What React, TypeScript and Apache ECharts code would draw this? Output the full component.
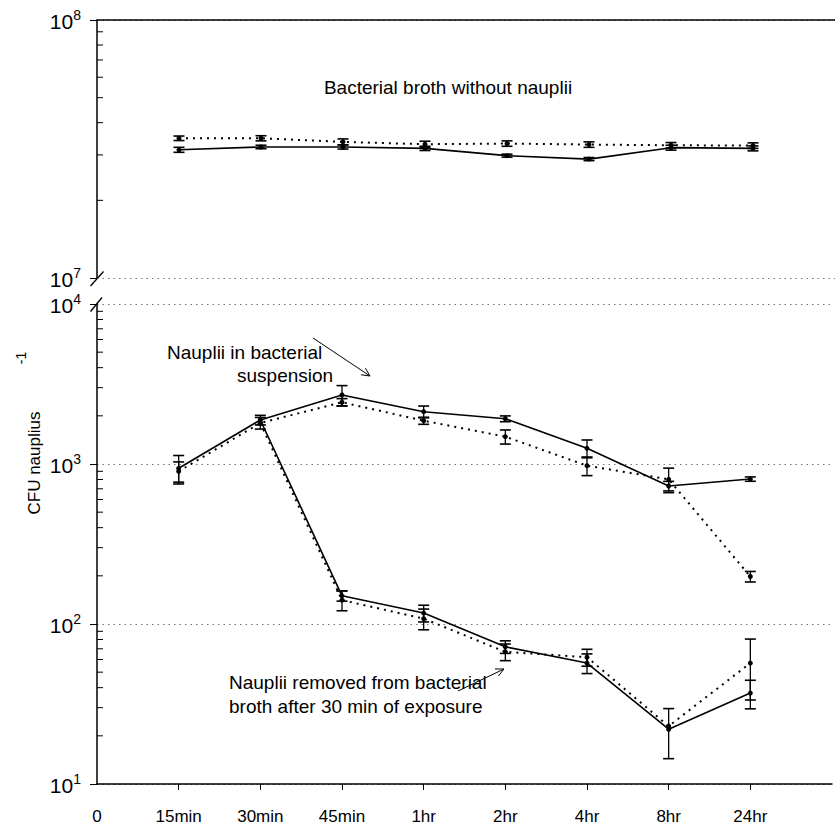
import React, { useEffect, useRef } from 'react';
import * as echarts from 'echarts';

// ---------- data ----------
const categories = ['0', '15min', '30min', '45min', '1hr', '2hr', '4hr', '8hr', '24hr'];
const timeIndex = [1, 2, 3, 4, 5, 6, 7, 8];

// Bacterial broth without nauplii (top panel)
const brothSolid = [3.14e7, 3.22e7, 3.22e7, 3.18e7, 2.98e7, 2.89e7, 3.2e7, 3.18e7];
const brothSolidErr = [0.07e7, 0.05e7, 0.06e7, 0.06e7, 0.04e7, 0.04e7, 0.07e7, 0.07e7];
const brothDotted = [3.48e7, 3.48e7, 3.37e7, 3.3e7, 3.32e7, 3.29e7, 3.27e7, 3.26e7];
const brothDottedErr = [0.07e7, 0.08e7, 0.09e7, 0.09e7, 0.08e7, 0.08e7, 0.08e7, 0.08e7];

// Nauplii in bacterial suspension
const suspSolid = [940, 1884, 2700, 2123, 1918, 1253, 729, 805];
const suspSolidErr = [190, 130, 390, 180, 80, 160, 50, 25];
const suspDotted = [900, 1803, 2432, 1865, 1482, 976, 802, 198];
const suspDottedErr = [130, 150, 130, 95, 150, 130, 140, 15];

// Nauplii removed from bacterial broth after 30 min of exposure
const removedSolid = [null, 1884, 150, 117, 72, 57, 22, 37];
const removedSolidErr = [null, 0, 11, 14, 6.5, 8, 7.6, 7.5];
const removedDotted = [null, 1803, 141, 108, 67, 62, 23, 57];
const removedDottedErr = [null, 0, 20, 16, 8, 7.5, 0, 23.5];

const topMinor = [2, 3, 4, 5, 6, 7, 8, 9].map((k) => k * 1e7);
const bottomMinor = [10, 100, 1000].flatMap((d) => [2, 3, 4, 5, 6, 7, 8, 9].map((k) => k * d));

// ---------- helpers ----------
const FONT = '"Liberation Sans", Arial, Helvetica, sans-serif';

const pts = (vals: (number | null)[]) =>
  timeIndex.map((x, i) => [x, vals[i]]).filter((p) => p[1] != null);

const errData = (vals: (number | null)[], errs: (number | null)[]) =>
  timeIndex
    .map((x, i) => (vals[i] == null || !errs[i] ? null : [x, (vals[i] as number) - (errs[i] as number), (vals[i] as number) + (errs[i] as number)]))
    .filter((p) => p != null);

const errorRender = (params: any, api: any) => {
  const x = api.value(0);
  const lo = api.coord([x, api.value(1)]);
  const hi = api.coord([x, api.value(2)]);
  const w = 5.5;
  const st = { stroke: '#000', lineWidth: 1.3 };
  return {
    type: 'group',
    children: [
      { type: 'line', shape: { x1: lo[0], y1: lo[1], x2: hi[0], y2: hi[1] }, style: st },
      { type: 'line', shape: { x1: lo[0] - w, y1: lo[1], x2: lo[0] + w, y2: lo[1] }, style: { stroke: '#000', lineWidth: 1.6 } },
      { type: 'line', shape: { x1: hi[0] - w, y1: hi[1], x2: hi[0] + w, y2: hi[1] }, style: { stroke: '#000', lineWidth: 1.6 } },
    ],
  };
};

const minorRender = (params: any, api: any) => {
  const p = api.coord([0, api.value(1)]);
  return { type: 'line', shape: { x1: p[0], y1: p[1], x2: p[0] + 6, y2: p[1] }, style: { stroke: '#000', lineWidth: 1 } };
};

const solidStyle = { color: '#000', width: 1.6, type: 'solid' };
const dottedStyle = { color: '#000', width: 2, type: [2, 5] };

const lineSeries = (data: any, gi: number, style: any) => ({
  type: 'line',
  xAxisIndex: gi,
  yAxisIndex: gi,
  data,
  symbol: 'circle',
  symbolSize: 5,
  itemStyle: { color: '#000' },
  lineStyle: style,
  z: 3,
});

const errSeries = (data: any, gi: number) => ({
  type: 'custom',
  xAxisIndex: gi,
  yAxisIndex: gi,
  data,
  renderItem: errorRender,
  encode: { x: 0, y: [1, 2] },
  z: 4,
  silent: true,
});

const arrow = (x1: number, y1: number, x2: number, y2: number) => {
  const dx = x2 - x1, dy = y2 - y1;
  const len = Math.hypot(dx, dy);
  const ux = dx / len, uy = dy / len;
  const s = 9, a = 0.45;
  const cos = Math.cos(a), sin = Math.sin(a);
  const l = [x2 - s * (ux * cos - uy * sin), y2 - s * (uy * cos + ux * sin)];
  const r = [x2 - s * (ux * cos + uy * sin), y2 - s * (uy * cos - ux * sin)];
  return [
    { type: 'line', shape: { x1, y1, x2, y2 }, style: { stroke: '#000', lineWidth: 1 } },
    { type: 'polyline', shape: { points: [l, [x2, y2], r] }, style: { stroke: '#000', lineWidth: 1, fill: null } },
  ];
};

const yLabel = {
  color: '#000',
  margin: 16,
  formatter: (v: number) => `{b|10}{s|${Math.round(Math.log10(v))}}`,
  rich: {
    b: { fontFamily: FONT, fontSize: 21, color: '#000', lineHeight: 24, verticalAlign: 'bottom' },
    s: { fontFamily: FONT, fontSize: 14, color: '#000', lineHeight: 14, verticalAlign: 'top' },
  },
};

const gridSplit = { show: true, lineStyle: { color: '#777', width: 1, type: [1.5, 4] } };

const txt = (text: string, x: number, y: number, size: number, align = 'left', extra: any = {}) => ({
  type: 'text', x, y, ...extra,
  style: { text, font: `${size}px ${FONT}`, fill: '#000', align, verticalAlign: 'middle' },
});

export default function App() {
  const ref = useRef<HTMLDivElement>(null);
  useEffect(() => {
    if (!ref.current) return;
    const chart = echarts.init(ref.current, null, { renderer: 'svg' });
    const option: any = {
      animation: false,
      backgroundColor: '#fff',
      grid: [
        { left: 97, top: 20, height: 258, right: -12 },
        { left: 97, top: 304, height: 480, right: -12 },
      ],
      xAxis: [
        {
          gridIndex: 0, type: 'value', min: 0, max: 9, interval: 1, position: 'top',
          axisLine: { show: true, onZero: false, lineStyle: { color: '#000', width: 1.5 } },
          axisTick: { show: false }, axisLabel: { show: false }, splitLine: { show: false },
        },
        {
          gridIndex: 1, type: 'value', min: 0, max: 9, interval: 1, position: 'bottom',
          axisLine: { show: true, onZero: false, lineStyle: { color: '#000', width: 1.5 } },
          axisTick: { show: true, length: 6, customValues: timeIndex, lineStyle: { color: '#000', width: 1 } },
          axisLabel: {
            margin: 24, color: '#000', fontSize: 17, fontFamily: FONT,
            formatter: (v: number) => categories[v] ?? '',
          },
          splitLine: { show: false },
        },
      ],
      yAxis: [
        {
          gridIndex: 0, type: 'log', logBase: 10, min: 1e7, max: 1e8,
          axisLine: { show: true, lineStyle: { color: '#000', width: 1.5 } },
          axisTick: { show: true, length: 7, lineStyle: { color: '#000' } },
          axisLabel: yLabel, splitLine: gridSplit,
        },
        {
          gridIndex: 1, type: 'log', logBase: 10, min: 10, max: 1e4,
          axisLine: { show: true, lineStyle: { color: '#000', width: 1.5 } },
          axisTick: { show: true, length: 7, lineStyle: { color: '#000' } },
          axisLabel: yLabel, splitLine: gridSplit,
        },
      ],
      series: [
        lineSeries(pts(brothDotted), 0, dottedStyle),
        lineSeries(pts(brothSolid), 0, solidStyle),
        errSeries(errData(brothDotted, brothDottedErr), 0),
        errSeries(errData(brothSolid, brothSolidErr), 0),
        lineSeries(pts(suspDotted), 1, dottedStyle),
        lineSeries(pts(suspSolid), 1, solidStyle),
        lineSeries(pts(removedDotted), 1, dottedStyle),
        lineSeries(pts(removedSolid), 1, solidStyle),
        errSeries(errData(suspDotted, suspDottedErr), 1),
        errSeries(errData(suspSolid, suspSolidErr), 1),
        errSeries(errData(removedDotted, removedDottedErr), 1),
        errSeries(errData(removedSolid, removedSolidErr), 1),
        { type: 'custom', xAxisIndex: 0, yAxisIndex: 0, data: topMinor.map((v) => [0, v]), renderItem: minorRender, encode: { x: 0, y: 1 }, silent: true },
        { type: 'custom', xAxisIndex: 1, yAxisIndex: 1, data: bottomMinor.map((v) => [0, v]), renderItem: minorRender, encode: { x: 0, y: 1 }, silent: true },
      ],
      graphic: [
        // axis break marks
        { type: 'line', shape: { x1: 90.5, y1: 286, x2: 103.5, y2: 271.5 }, style: { stroke: '#000', lineWidth: 1.3 } },
        { type: 'line', shape: { x1: 90.5, y1: 311.5, x2: 102, y2: 297.5 }, style: { stroke: '#000', lineWidth: 1.3 } },
        // annotations
        txt('Bacterial broth without nauplii', 448, 87, 19, 'center'),
        txt('Nauplii in bacterial', 167, 352, 19),
        txt('suspension', 237, 375, 19),
        txt('Nauplii removed from bacterial', 229, 682, 19),
        txt('broth after 30 min of exposure', 229, 706, 19),
        ...arrow(313, 338, 370, 376),
        ...arrow(458, 691, 504, 669),
        // y axis title
        txt('CFU nauplius', 34, 463, 17, 'center', { rotation: Math.PI / 2 }),
        txt('-1', 21, 358, 14, 'center', { rotation: Math.PI / 2 }),
      ],
    };
    chart.setOption(option);
    return () => chart.dispose();
  }, []);
  return <div ref={ref} style={{ position: 'fixed', left: 0, top: 0, width: 835, height: 826, background: '#fff' }} />;
}
